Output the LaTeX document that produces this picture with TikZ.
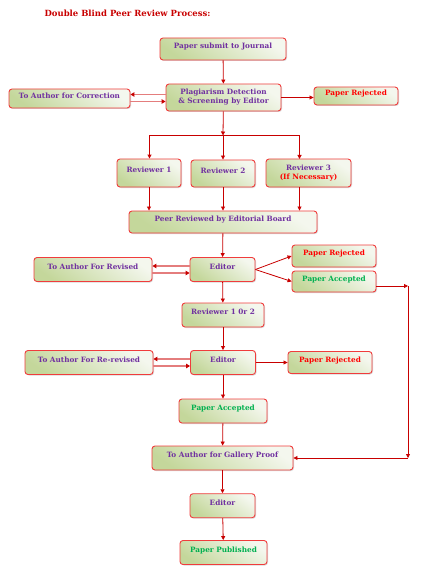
\documentclass[tikz,border=0pt]{standalone}
\usepackage{fontspec}
\setmainfont{DejaVu Serif}
\usetikzlibrary{arrows.meta,shadows}

\definecolor{boxred}{RGB}{240,60,60}
\definecolor{linered}{RGB}{200,0,0}
\definecolor{softred}{RGB}{228,125,125}
\definecolor{txtpurple}{RGB}{112,48,160}
\definecolor{txtgreen}{RGB}{0,176,80}
\definecolor{fillgreen}{RGB}{196,215,155}
\definecolor{fillpale}{RGB}{244,247,238}

\begin{document}
\begin{tikzpicture}[x=1pt,y=-1pt,
  box/.style={draw=boxred,line width=0.9pt,rounded corners=3pt,
    bottom color=fillgreen,top color=fillpale,shading angle=-35,
    drop shadow={opacity=0.3,shadow xshift=1pt,shadow yshift=-1pt},
    font=\fontsize{7.3}{9}\selectfont\bfseries,text=txtpurple,align=center,
    inner sep=0pt,text depth=6pt},
  twoline/.style={text depth=2pt},
  rej/.style={box,text=red},
  acc/.style={box,text=txtgreen},
  wire/.style={draw=linered,line width=0.8pt},
  arr/.style={wire,-{Triangle[length=4pt,width=4pt]}},
  soft/.style={draw=softred,line width=1.6pt,-{Triangle[length=4pt,width=4.5pt,color=linered]}}]
  \useasboundingbox (0,0) rectangle (423,572);
  \node[anchor=west,font=\fontsize{8.5}{10}\selectfont\bfseries,text=linered] (title) at (41,13) {Double Blind Peer Review Process:};

  \node[box,minimum width=126pt,minimum height=22pt] (submit) at (223,49) {Paper submit to Journal};
  \node[box,twoline,minimum width=115pt,minimum height=27pt] (plag) at (223.5,97.5) {Plagiarism Detection\\\& Screening by Editor};
  \node[box,minimum width=121pt,minimum height=19pt] (corr) at (69.5,98.5) {To Author for Correction};
  \node[rej,minimum width=84pt,minimum height=18pt] (rej1) at (356,96) {Paper Rejected};
  \node[box,minimum width=64pt,minimum height=28pt] (rev1) at (149,173) {Reviewer 1};
  \node[box,minimum width=64pt,minimum height=27pt] (rev2) at (223,173.5) {Reviewer 2};
  \node[box,twoline,minimum width=85pt,minimum height=28pt] (rev3) at (308.5,173) {Reviewer 3\\{\color{red}(If Necessary)}};
  \node[box,minimum width=188pt,minimum height=22pt] (board) at (223,222) {Peer Reviewed by Editorial Board};
  \node[box,minimum width=65pt,minimum height=24pt] (ed1) at (222.5,269.5) {Editor};
  \node[box,minimum width=118pt,minimum height=24pt] (revised) at (93,269.5) {To Author For Revised};
  \node[rej,minimum width=84pt,minimum height=22pt] (rej2) at (334,256) {Paper Rejected};
  \node[acc,minimum width=84pt,minimum height=21pt] (acc2) at (334,281.5) {Paper Accepted};
  \node[box,minimum width=82pt,minimum height=24pt] (rev12) at (223,315) {Reviewer 1 0r 2};
  \node[box,minimum width=65pt,minimum height=24pt] (ed2) at (223,362.5) {Editor};
  \node[box,minimum width=128pt,minimum height=24pt] (rerevised) at (89,362.5) {To Author For Re-revised};
  \node[rej,minimum width=84pt,minimum height=22pt] (rej3) at (330,362.5) {Paper Rejected};
  \node[acc,minimum width=88pt,minimum height=24pt] (acc3) at (223,411) {Paper Accepted};
  \node[box,minimum width=141pt,minimum height=24pt] (proof) at (222.5,458) {To Author for Gallery Proof};
  \node[box,minimum width=65pt,minimum height=24pt] (ed3) at (222.5,505.7) {Editor};
  \node[acc,minimum width=87pt,minimum height=24pt] (pub) at (223.5,552.5) {Paper Published};

  \coordinate (split) at (223,135.5);
  \coordinate (s1) at (149.5,135.5);
  \coordinate (s3) at (299.5,135.5);
  \coordinate (r3in) at (299.5,159);
  \coordinate (c1) at (408,286);
  \coordinate (c2) at (408,458);

  \draw[arr] (submit) -- (plag);
  \draw[soft] ([yshift=3pt]plag.west) -- ([yshift=3pt]plag.west -| corr.east);
  \draw[soft] ([yshift=-4pt]plag.west -| corr.east) -- ([yshift=-4pt]plag.west);
  \draw[arr] (plag) -- (rej1.west |- plag);
  \draw[arr] (plag) -- (split);
  \draw[wire,line width=1pt] (s1) -- (s3);
  \draw[arr,line width=1pt] (s1) -- (rev1.north -| s1);
  \draw[arr] (split) -- (rev2);
  \draw[arr,line width=1pt] (s3) -- (r3in);
  \draw[arr] (rev1) -- (board.north -| rev1);
  \draw[arr] (rev2) -- (board.north -| rev2);
  \draw[arr] (rev3.south -| r3in) -- (board.north -| r3in);
  \draw[arr] (board) -- (ed1);
  \draw[soft] ([yshift=3.5pt]ed1.west) -- ([yshift=3.5pt]revised.east);
  \draw[soft] ([yshift=-3.5pt]revised.east) -- ([yshift=-3.5pt]ed1.west);
  \draw[arr] (ed1.east) -- (rej2.west);
  \draw[arr] (ed1.east) -- (acc2.west);
  \draw[arr] (acc2.east |- c1) -- (c1);
  \draw[arr] (c1) -- (c2);
  \draw[arr] (c2) -- (proof.east);
  \draw[arr] (ed1) -- (rev12);
  \draw[arr] (rev12) -- (ed2);
  \draw[soft] ([yshift=3.5pt]ed2.west) -- ([yshift=3.5pt]rerevised.east);
  \draw[soft] ([yshift=-3.5pt]rerevised.east) -- ([yshift=-3.5pt]ed2.west);
  \draw[arr] (ed2) -- (rej3);
  \draw[arr] (ed2) -- (acc3);
  \draw[arr] (acc3) -- (proof);
  \draw[arr] (proof) -- (ed3);
  \draw[arr] (ed3) -- (pub);
\end{tikzpicture}
\end{document}
